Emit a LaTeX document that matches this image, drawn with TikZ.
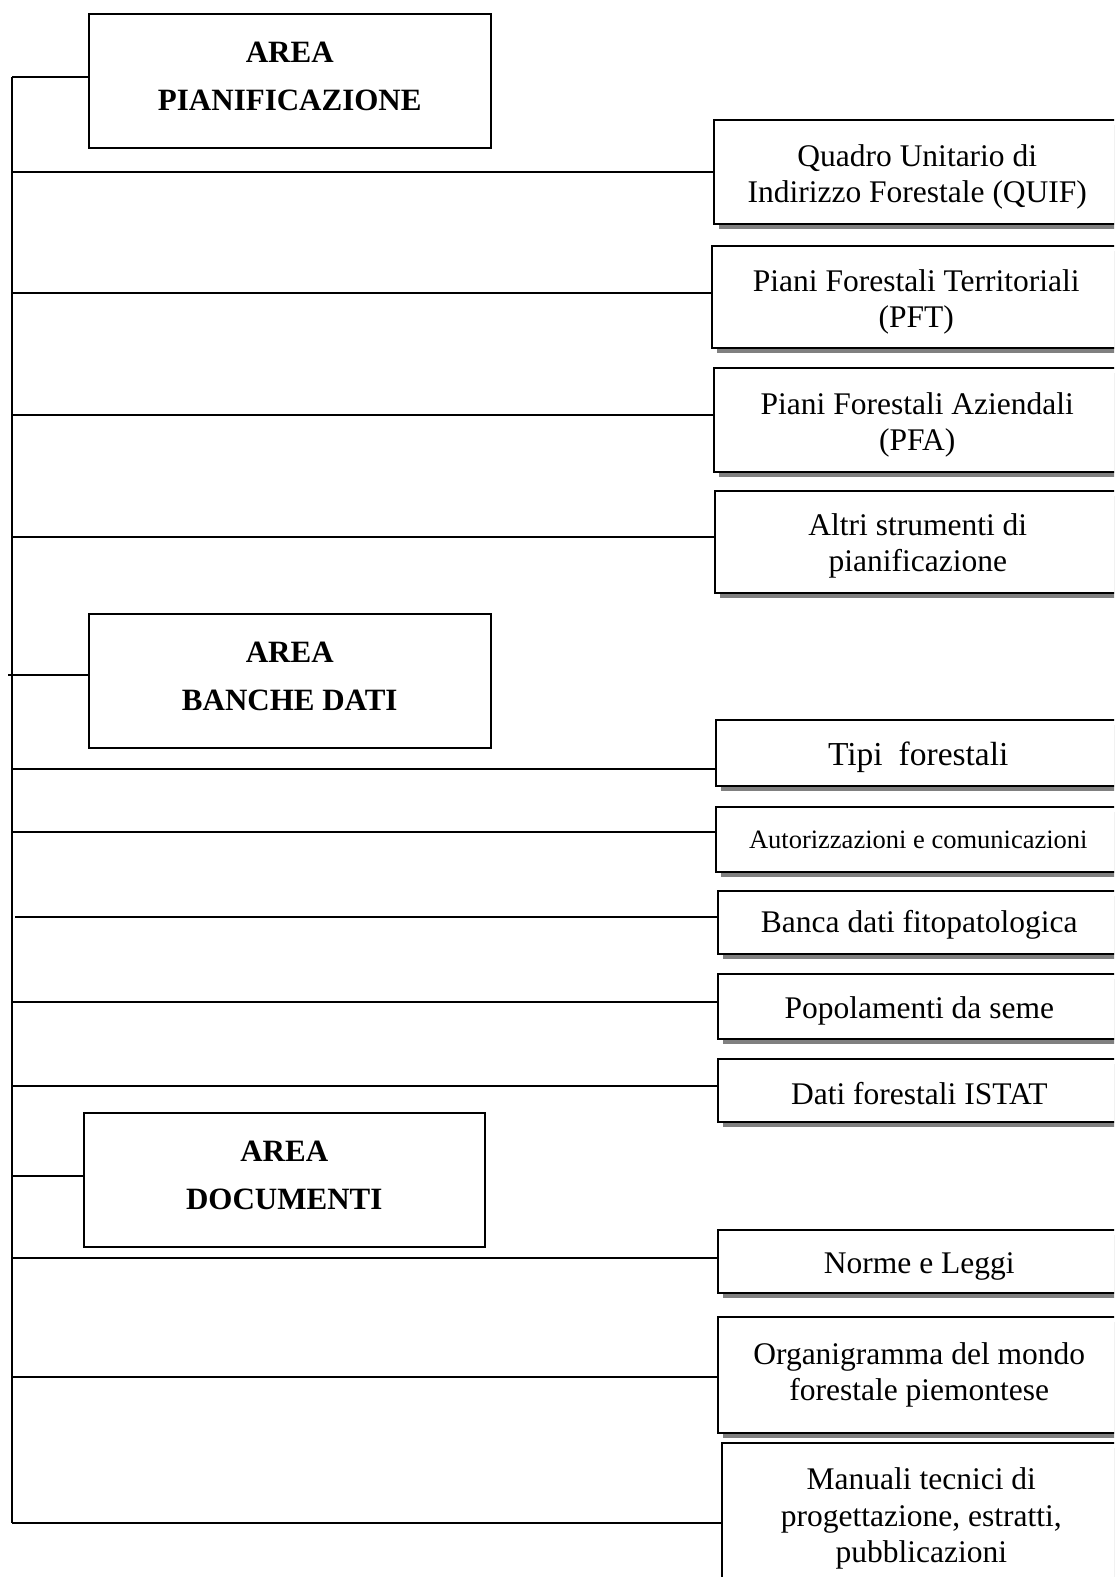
\documentclass[tikz,border=0pt]{standalone}
\usepackage{fontspec}
\setmainfont{Liberation Serif}
\usetikzlibrary{shadows}
\begin{document}
\begin{tikzpicture}[x=1pt,y=-1pt,line width=1.5pt,
  itembox/.style={draw, fill=white, anchor=north west, inner sep=0pt,
    drop shadow={shadow xshift=5pt, shadow yshift=-5pt, opacity=1, fill=black!50}},
  itemtext/.style={align=center, inner sep=0pt, font=\fontsize{31.5}{36.5}\selectfont},
  areabox/.style={draw, fill=white, anchor=north west, inner sep=0pt},
  areatext/.style={align=center, inner sep=0pt, yshift=4pt, font=\bfseries\fontsize{31}{48}\selectfont},
  link/.style={line width=1.5pt}]
\useasboundingbox (0,0) rectangle (1114,1577);
\clip (0,0) rectangle (1114,1577);

% area boxes
\node[areabox, minimum width=402pt, minimum height=134pt] (pA) at (88,13) {};
\node[areatext] (pAt) at (pA.center) {AREA\\PIANIFICAZIONE};
\node[areabox, minimum width=402pt, minimum height=134pt] (pB) at (88,613) {};
\node[areatext] (pBt) at (pB.center) {AREA\\BANCHE DATI};
\node[areabox, minimum width=401pt, minimum height=134pt] (pC) at (83,1112) {};
\node[areatext] (pCt) at (pC.center) {AREA\\DOCUMENTI};

% item boxes
\node[itembox, minimum width=407pt, minimum height=104pt] (quif) at (713,119) {};
\node[itemtext, yshift=-5pt] (quift) at (quif.center) {Quadro Unitario di\\Indirizzo Forestale (QUIF)};
\node[itembox, minimum width=409pt, minimum height=102pt] (pft) at (711,245) {};
\node[itemtext, yshift=-5pt] (pftt) at (pft.center) {Piani Forestali Territoriali\\(PFT)};
\node[itembox, minimum width=407pt, minimum height=104pt] (pfa) at (713,367) {};
\node[itemtext, yshift=-5pt] (pfat) at (pfa.center) {Piani Forestali Aziendali\\(PFA)};
\node[itembox, minimum width=406pt, minimum height=102pt] (altri) at (714,490) {};
\node[itemtext, yshift=-4pt] (altrit) at (altri.center) {Altri strumenti di\\pianificazione};
\node[itembox, minimum width=405pt, minimum height=66pt] (tipi) at (715,719) {};
\node[itemtext, yshift=-5pt, font=\fontsize{33.5}{38}\selectfont] (tipit) at (tipi.center) {Tipi\hspace{16pt}forestali};
\node[itembox, minimum width=405pt, minimum height=65pt] (aut) at (715,806) {};
\node[itemtext, yshift=-1pt, font=\fontsize{26.5}{31}\selectfont] (autt) at (aut.center) {Autorizzazioni e comunicazioni};
\node[itembox, minimum width=403pt, minimum height=63pt] (banca) at (717,890) {};
\node[itemtext, yshift=-3pt] (bancat) at (banca.center) {Banca dati fitopatologica};
\node[itembox, minimum width=403pt, minimum height=65pt] (pop) at (717,973) {};
\node[itemtext, yshift=-5pt] (popt) at (pop.center) {Popolamenti da seme};
\node[itembox, minimum width=403pt, minimum height=63pt] (istat) at (717,1058) {};
\node[itemtext, yshift=-3pt] (istatt) at (istat.center) {Dati forestali ISTAT};
\node[itembox, minimum width=403pt, minimum height=63pt] (norme) at (717,1229) {};
\node[itemtext, yshift=-5pt] (normet) at (norme.center) {Norme e Leggi};
\node[itembox, minimum width=403pt, minimum height=116pt] (org) at (717,1316) {};
\node[itemtext] (orgt) at (org.center) {Organigramma del mondo\\forestale piemontese};
\node[itembox, minimum width=399pt, minimum height=152pt] (man) at (721,1442) {};
\node[itemtext] (mant) at (man.center) {Manuali tecnici di\\progettazione, estratti,\\pubblicazioni};

% trunk
\coordinate (tA) at (12,77);
\coordinate (tEnd) at (12,1523);
\draw[link] (tA) -- (tEnd);

% connector start points on the trunk
\coordinate (cA) at (12,77);
\coordinate (cquif) at (12,172);
\coordinate (cpft) at (12,293);
\coordinate (cpfa) at (12,415);
\coordinate (caltri) at (12,537);
\coordinate (cB) at (8,675);
\coordinate (ctipi) at (12,769);
\coordinate (caut) at (12,832);
\coordinate (cbanca) at (15,917);
\coordinate (cpop) at (12,1002);
\coordinate (cistat) at (12,1086);
\coordinate (cC) at (12,1176);
\coordinate (cnorme) at (12,1258);
\coordinate (corg) at (12,1377);
\coordinate (cman) at (12,1523);

\draw[link] (cA) -- (cA -| pA.west);
\draw[link] (cquif) -- (cquif -| quif.west);
\draw[link] (cpft) -- (cpft -| pft.west);
\draw[link] (cpfa) -- (cpfa -| pfa.west);
\draw[link] (caltri) -- (caltri -| altri.west);
\draw[link] (cB) -- (cB -| pB.west);
\draw[link] (ctipi) -- (ctipi -| tipi.west);
\draw[link] (caut) -- (caut -| aut.west);
\draw[link] (cbanca) -- (cbanca -| banca.west);
\draw[link] (cpop) -- (cpop -| pop.west);
\draw[link] (cistat) -- (cistat -| istat.west);
\draw[link] (cC) -- (cC -| pC.west);
\draw[link] (cnorme) -- (cnorme -| norme.west);
\draw[link] (corg) -- (corg -| org.west);
\draw[link] (cman) -- (cman -| man.west);
\end{tikzpicture}
\end{document}
